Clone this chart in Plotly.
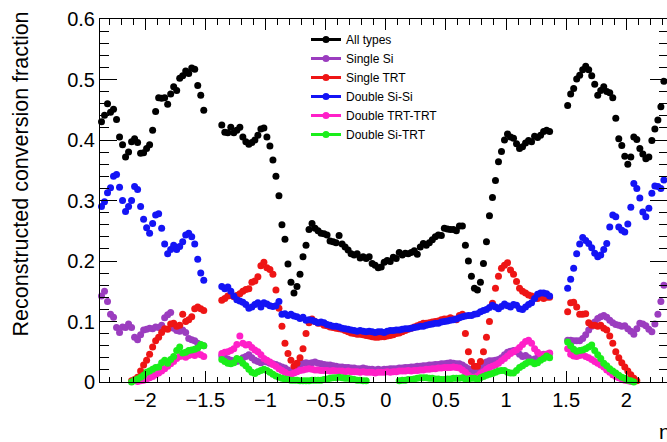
import plotly.graph_objects as go

# ---- eta bin centres (bin width 0.025) ----
BIN = 0.025
eta_left = [round(-2.3625 + BIN * i, 4) for i in range(35)]      # -2.3625 .. -1.5125
eta_barrel = [round(-1.3625 + BIN * i, 4) for i in range(110)]   # -1.3625 .. 1.3625
eta_right = [round(1.5125 + BIN * i, 4) for i in range(33)]      # 1.5125 .. 2.3125
N = None

# ---- All types ----
all_left = [0.430, 0.441, 0.460, 0.446, 0.451, 0.434, 0.405, 0.392, 0.372, 0.380,
            0.397, 0.402, 0.396, 0.378, 0.379, 0.386, 0.392, 0.416, 0.447, 0.470,
            0.469, 0.470, 0.459, 0.476, 0.488, 0.482, 0.502, 0.506, 0.514, 0.510,
            0.519, 0.517, 0.490, 0.474, 0.449]
all_barrel = [0.425, 0.413, 0.412, 0.421, 0.412, 0.416, 0.421, 0.405, 0.397, 0.393,
              0.396, 0.400, 0.408, 0.418, 0.420, 0.405, 0.390, 0.367, 0.340, 0.308,
              0.260, 0.236, 0.195, 0.165, 0.147, 0.158, 0.178, 0.207, 0.226, 0.252,
              0.262, 0.254, 0.250, 0.246, 0.245, 0.243, 0.233, 0.232, 0.230, 0.242,
              0.228, 0.223, 0.218, 0.212, 0.210, 0.212, 0.205, 0.207, 0.204, 0.207,
              0.196, 0.193, 0.189, 0.190, 0.198, 0.201, 0.199, 0.206, 0.204, 0.214,
              0.210, 0.213, 0.212, 0.214, 0.217, 0.211, 0.223, 0.229, 0.226, 0.230,
              0.235, 0.240, 0.243, 0.242, 0.254, 0.253, 0.252, 0.252, 0.250, 0.258,
              0.258, 0.226, 0.200, 0.175, 0.155, 0.152, 0.165, 0.196, 0.232, 0.275,
              0.305, 0.333, 0.364, 0.381, 0.400, 0.410, 0.405, 0.403, 0.394, 0.386,
              0.389, 0.395, 0.399, 0.397, 0.406, 0.404, 0.408, 0.414, 0.416, 0.414]
all_right = [0.457, 0.476, 0.485, 0.501, 0.507, 0.516, 0.522, 0.516, 0.506, 0.492,
             0.474, 0.482, 0.488, 0.480, 0.478, 0.470, 0.436, 0.402, 0.391, 0.373,
             0.360, 0.372, 0.405, 0.401, 0.386, 0.377, 0.369, 0.372, 0.399, 0.418,
             0.433, 0.455, 0.497]

# ---- Single Si ----
si_left = [0.142, 0.150, 0.133, 0.112, 0.107, 0.090, 0.082, 0.091, 0.090, 0.096,
           0.090, 0.074, 0.070, 0.078, 0.086, 0.087, 0.089, 0.088, 0.091, 0.090,
           0.094, 0.106, 0.111, 0.115, 0.089, 0.085, 0.084, 0.086, 0.082, 0.072,
           0.070, 0.068, 0.064, 0.061, 0.060]
si_barrel = [0.043, 0.040, 0.038, 0.036, 0.035, 0.034, 0.036, 0.040, 0.042, 0.045,
             0.040, 0.036, 0.034, 0.032, 0.034, 0.033, 0.031, 0.030, 0.029, 0.027,
             0.025, 0.023, 0.020, 0.018, 0.018, 0.022, 0.028, 0.031, 0.032, 0.031,
             0.032, 0.033, 0.031, 0.030, 0.029, 0.028, 0.028, 0.027, 0.026, 0.025,
             0.025, 0.024, 0.024, 0.023, 0.023, 0.022, 0.022, 0.023, 0.022, 0.021,
             0.021, 0.020, 0.021, 0.020, 0.021, 0.021, 0.022, 0.022, 0.022, 0.023,
             0.023, 0.024, 0.024, 0.025, 0.025, 0.026, 0.026, 0.027, 0.027, 0.028,
             0.028, 0.029, 0.029, 0.030, 0.030, 0.031, 0.032, 0.031, 0.030, 0.030,
             0.028, 0.025, 0.022, 0.019, 0.018, 0.019, 0.024, 0.029, 0.033, 0.035,
             0.035, 0.036, 0.037, 0.040, 0.045, 0.049, 0.051, 0.052, 0.050, 0.046,
             0.042, 0.044, 0.040, 0.036, 0.038, 0.040, 0.043, 0.046, 0.046, 0.047]
si_right = [0.069, 0.069, 0.068, 0.068, 0.068, 0.072, 0.078, 0.086, 0.092, 0.099,
            0.105, 0.108, 0.110, 0.107, 0.102, 0.098, 0.095, 0.094, 0.092, 0.093,
            0.088, 0.084, 0.079, 0.088, 0.097, 0.096, 0.093, 0.087, 0.083, 0.096,
            0.112, 0.133, 0.160]

# ---- Single TRT ----
trt_left = [N, N, N, N, N, N, N, N, N, N,
            0.002, 0.004, 0.008, 0.018, 0.028, 0.036, 0.046, 0.058, 0.068, 0.074,
            0.082, 0.088, 0.087, 0.096, 0.097, 0.092, 0.094, 0.112, 0.100, 0.103,
            0.108, 0.121, 0.124, 0.121, 0.118]
trt_barrel = [0.135, 0.138, 0.142, 0.143, 0.141, 0.143, 0.146, 0.150, 0.153, 0.154,
              0.165, 0.167, 0.174, 0.192, 0.198, 0.189, 0.186, 0.178, 0.152, 0.122,
              0.092, 0.064, 0.047, 0.036, 0.026, 0.031, 0.040, 0.055, 0.080, 0.098,
              0.104, 0.100, 0.097, 0.097, 0.094, 0.093, 0.091, 0.090, 0.089, 0.088,
              0.087, 0.085, 0.083, 0.081, 0.080, 0.079, 0.079, 0.078, 0.077, 0.076,
              0.075, 0.074, 0.074, 0.075, 0.075, 0.076, 0.077, 0.078, 0.080, 0.081,
              0.083, 0.085, 0.087, 0.089, 0.091, 0.093, 0.095, 0.097, 0.097, 0.098,
              0.099, 0.100, 0.101, 0.103, 0.104, 0.104, 0.106, 0.104, 0.103, 0.110,
              0.112, 0.080, 0.050, 0.034, 0.026, 0.026, 0.034, 0.050, 0.074, 0.100,
              0.130, 0.155, 0.175, 0.188, 0.193, 0.197, 0.185, 0.178, 0.166, 0.155,
              0.150, 0.147, 0.144, 0.142, 0.140, 0.138, 0.141, 0.138, 0.140, 0.140]
trt_right = [0.116, 0.131, 0.132, 0.124, 0.112, 0.112, 0.113, 0.098, 0.094, 0.094,
             0.092, 0.094, 0.089, 0.086, 0.076, 0.064, 0.050, 0.040, 0.032, 0.025,
             0.018, 0.012, 0.006, 0.002, N, N, N, N, N, N,
             N, N, N]

# ---- Double Si-Si ----
sisi_left = [0.290, 0.298, 0.313, 0.321, 0.340, 0.343, 0.322, 0.300, 0.282, 0.290,
             0.300, 0.323, 0.318, 0.290, 0.269, 0.255, 0.246, 0.262, 0.276, 0.278,
             0.254, 0.228, 0.212, 0.219, 0.226, 0.219, 0.224, 0.232, 0.243, 0.246,
             0.240, 0.228, 0.203, 0.180, 0.168]
sisi_barrel = [0.158, 0.154, 0.157, 0.150, 0.142, 0.136, 0.134, 0.132, 0.128, 0.122,
               0.124, 0.128, 0.131, 0.124, 0.131, 0.129, 0.126, 0.125, 0.126, 0.133,
               0.112, 0.113, 0.110, 0.112, 0.109, 0.108, 0.105, 0.107, 0.102, 0.103,
               0.102, 0.100, 0.098, 0.099, 0.098, 0.095, 0.094, 0.092, 0.092, 0.091,
               0.089, 0.088, 0.087, 0.086, 0.085, 0.084, 0.085, 0.084, 0.083, 0.084,
               0.083, 0.082, 0.083, 0.083, 0.082, 0.084, 0.085, 0.085, 0.086, 0.086,
               0.087, 0.088, 0.088, 0.089, 0.090, 0.091, 0.092, 0.092, 0.094, 0.095,
               0.096, 0.097, 0.097, 0.099, 0.100, 0.101, 0.102, 0.103, 0.104, 0.106,
               0.108, 0.109, 0.110, 0.110, 0.112, 0.113, 0.116, 0.118, 0.120, 0.123,
               0.127, 0.124, 0.121, 0.125, 0.129, 0.126, 0.124, 0.128, 0.127, 0.121,
               0.120, 0.124, 0.128, 0.131, 0.138, 0.145, 0.147, 0.147, 0.146, 0.142]
sisi_right = [0.155, 0.170, 0.188, 0.212, 0.228, 0.239, 0.234, 0.229, 0.222, 0.213,
              0.207, 0.210, 0.219, 0.229, 0.256, 0.276, 0.273, 0.256, 0.251, 0.248,
              0.261, 0.289, 0.328, 0.320, 0.304, 0.281, 0.273, 0.287, 0.312, 0.324,
              0.323, 0.320, 0.334]

# ---- Double TRT-TRT ----
trttrt_left = [N, N, N, N, N, N, N, N, N, N,
               N, N, 0.001, 0.002, 0.003, 0.005, 0.007, 0.009, 0.012, 0.015,
               0.018, 0.022, 0.026, 0.030, 0.034, 0.039, 0.042, 0.043, 0.041, 0.044,
               0.046, 0.044, 0.047, 0.045, 0.042]
trttrt_barrel = [0.047, 0.049, 0.050, 0.052, 0.055, 0.062, 0.076, 0.064, 0.061, 0.062,
                 0.057, 0.053, 0.050, 0.045, 0.039, 0.036, 0.033, 0.029, 0.026, 0.022,
                 0.019, 0.016, 0.013, 0.013, 0.015, 0.017, 0.019, 0.020, 0.021, 0.022,
                 0.021, 0.020, 0.020, 0.019, 0.019, 0.019, 0.018, 0.019, 0.018, 0.018,
                 0.018, 0.017, 0.018, 0.017, 0.017, 0.017, 0.016, 0.017, 0.016, 0.016,
                 0.016, 0.015, 0.016, 0.016, 0.016, 0.017, 0.016, 0.017, 0.017, 0.018,
                 0.018, 0.018, 0.019, 0.018, 0.019, 0.019, 0.020, 0.020, 0.021, 0.021,
                 0.022, 0.022, 0.023, 0.023, 0.024, 0.024, 0.024, 0.025, 0.024, 0.023,
                 0.020, 0.016, 0.011, 0.008, 0.008, 0.010, 0.014, 0.017, 0.021, 0.024,
                 0.026, 0.028, 0.031, 0.035, 0.039, 0.043, 0.047, 0.050, 0.053, 0.057,
                 0.062, 0.067, 0.069, 0.064, 0.055, 0.049, 0.045, 0.045, 0.046, 0.048]
trttrt_right = [0.055, 0.046, 0.043, 0.042, 0.044, 0.045, 0.042, 0.040, 0.037, 0.034,
                0.031, 0.028, 0.025, 0.020, 0.016, 0.012, 0.009, 0.007, 0.005, 0.003,
                0.002, 0.001, N, N, N, N, N, N, N, N,
                N, N, N]

# ---- Double Si-TRT ----
sitrt_left = [N, N, N, N, N, N, N, N, N, N,
              0.000, 0.003, 0.005, 0.008, 0.011, 0.016, 0.018, 0.021, 0.024, 0.025,
              0.032, 0.036, 0.031, 0.037, 0.042, 0.052, 0.058, 0.048, 0.049, 0.052,
              0.053, 0.054, 0.056, 0.062, 0.060]
sitrt_barrel = [0.037, 0.034, 0.031, 0.030, 0.032, 0.039, 0.037, 0.031, 0.027, 0.021,
                0.016, 0.014, 0.017, 0.019, 0.021, 0.019, 0.016, 0.013, 0.010, 0.008,
                0.006, 0.005, 0.004, 0.003, 0.003, 0.003, 0.002, 0.002, 0.002, 0.002,
                0.003, 0.003, 0.003, 0.003, 0.004, 0.005, 0.006, 0.007, 0.007, 0.008,
                0.007, 0.006, 0.006, 0.005, 0.004, 0.003, 0.003, 0.002, 0.002, N,
                N, N, N, N, N, N, N, N, N, 0.002,
                0.003, 0.003, 0.004, 0.004, 0.005, 0.006, 0.007, 0.007, 0.007, 0.006,
                0.006, 0.005, 0.005, 0.004, 0.004, 0.005, 0.005, 0.006, 0.006, 0.006,
                0.007, 0.005, 0.005, 0.006, 0.006, 0.004, 0.007, 0.009, 0.011, 0.013,
                0.014, 0.016, 0.018, 0.019, 0.019, 0.016, 0.015, 0.015, 0.019, 0.024,
                0.027, 0.030, 0.033, 0.033, 0.030, 0.032, 0.036, 0.039, 0.043, 0.040]
sitrt_right = [0.066, 0.060, 0.054, 0.051, 0.052, 0.053, 0.055, 0.058, 0.061, 0.052,
               0.045, 0.039, 0.031, 0.027, 0.022, 0.018, 0.015, 0.011, 0.008, 0.006,
               0.003, 0.002, 0.000, N, N, N, N, N, N, N,
               N, N, N]

series_names = ["All types", "Single Si", "Single TRT", "Double Si-Si",
                "Double TRT-TRT", "Double Si-TRT"]
series_colors = ["#000000", "#9b3dbf", "#ee1515", "#1414f5", "#ff20c8", "#1aee1a"]
series_data = [
    (all_left, all_barrel, all_right),
    (si_left, si_barrel, si_right),
    (trt_left, trt_barrel, trt_right),
    (sisi_left, sisi_barrel, sisi_right),
    (trttrt_left, trttrt_barrel, trttrt_right),
    (sitrt_left, sitrt_barrel, sitrt_right),
]

y_tick_vals = [0, 0.1, 0.2, 0.3, 0.4, 0.5, 0.6]
y_tick_text = ["0", "0.1", "0.2", "0.3", "0.4", "0.5", "0.6"]
x_tick_vals = [-2, -1.5, -1, -0.5, 0, 0.5, 1, 1.5, 2]
x_tick_text = ["\u22122", "\u22121.5", "\u22121", "\u22120.5", "0", "0.5", "1", "1.5", "2"]

FONT = "Liberation Sans, Arial, Helvetica, sans-serif"

fig = go.Figure()
eta_all = eta_left + eta_barrel + eta_right
for (l, b, r), name, col in zip(series_data, series_names, series_colors):
    fig.add_trace(go.Scatter(
        x=eta_all, y=l + b + r, mode="markers", name=name, showlegend=False,
        marker=dict(size=7, color=col, line=dict(width=0)), cliponaxis=False,
        hoverinfo="x+y"))
for name, col in zip(series_names, series_colors):
    fig.add_trace(go.Scatter(
        x=[None], y=[None], mode="lines+markers", name=name,
        line=dict(color=col, width=3), marker=dict(size=7, color=col)))

axis_common = dict(showline=True, linecolor="black", linewidth=1, mirror="allticks",
                   ticks="inside", tickcolor="black", tickwidth=1, showgrid=False,
                   zeroline=False, tickfont=dict(family=FONT, size=20, color="black"))
fig.update_xaxes(range=[-2.375, 2.3383], tickvals=x_tick_vals, ticktext=x_tick_text,
                 ticklen=11,
                 minor=dict(dtick=0.1, tick0=0, ticklen=5.5, ticks="inside",
                            tickcolor="black", tickwidth=1, showgrid=False),
                 **axis_common)
fig.update_yaxes(range=[0, 0.6], tickvals=y_tick_vals, ticktext=y_tick_text,
                 ticklen=17,
                 minor=dict(dtick=0.02, tick0=0, ticklen=8.5, ticks="inside",
                            tickcolor="black", tickwidth=1, showgrid=False),
                 **axis_common)

fig.update_layout(
    width=667, height=442,
    margin=dict(l=100, r=0, t=19, b=60),
    paper_bgcolor="white", plot_bgcolor="white",
    font=dict(family=FONT, color="black"),
    showlegend=True,
    legend=dict(x=0.3633, y=0.9835, xanchor="left", yanchor="top",
                bgcolor="rgba(0,0,0,0)", borderwidth=0,
                font=dict(family=FONT, size=12, color="black")),
    annotations=[
        dict(text="Reconstructed conversion fraction", textangle=-90,
             xref="paper", yref="paper", x=-0.1376, y=0.5744,
             xanchor="center", yanchor="middle", showarrow=False,
             font=dict(family=FONT, size=21.5, color="black")),
        dict(text="\u03b7", xref="paper", yref="paper", x=0.982, y=-0.1377,
             xanchor="left", yanchor="middle", showarrow=False,
             font=dict(family=FONT, size=21, color="black")),
    ],
)

fig.write_html("out.html",
               config={"displayModeBar": False},
               post_script="document.body.style.margin='0px';"
                           "document.body.style.overflow='hidden';")
